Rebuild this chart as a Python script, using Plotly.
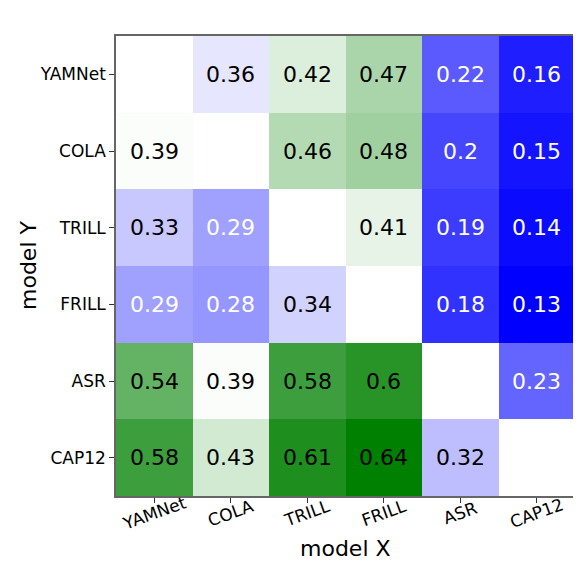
import numpy as np
import plotly.graph_objects as go

models = ["YAMNet", "COLA", "TRILL", "FRILL", "ASR", "CAP12"]

# rows = model Y (top to bottom), cols = model X
row_yamnet = [None, 0.36, 0.42, 0.47, 0.22, 0.16]
row_cola = [0.39, None, 0.46, 0.48, 0.2, 0.15]
row_trill = [0.33, 0.29, None, 0.41, 0.19, 0.14]
row_frill = [0.29, 0.28, 0.34, None, 0.18, 0.13]
row_asr = [0.54, 0.39, 0.58, 0.6, None, 0.23]
row_cap12 = [0.58, 0.43, 0.61, 0.64, 0.32, None]

z = [row_yamnet, row_cola, row_trill, row_frill, row_asr, row_cap12]
zf = np.array([[np.nan if v is None else v for v in r] for r in z])

fig = go.Figure(go.Heatmap(
    z=zf, x=models, y=models,
    colorscale=[[0, "rgb(0,0,255)"], [0.5, "rgb(255,255,255)"], [1, "rgb(0,128,0)"]],
    zmin=np.nanmin(zf), zmax=np.nanmax(zf),
    showscale=False, hoverongaps=False,
))

# value labels, white on the darker blue cells
for i, ym in enumerate(models):
    for j, xm in enumerate(models):
        v = z[i][j]
        if v is None:
            continue
        fig.add_annotation(x=xm, y=ym, text=f"{v:g}", showarrow=False,
                           font=dict(size=22, color="white" if v < 0.3 else "black"))

# rotated x tick labels centred under the ticks (matplotlib style)
for xm in models:
    fig.add_annotation(x=xm, y=0, xref="x", yref="paper", text=xm, showarrow=False,
                       textangle=-20, yanchor="middle", xanchor="center", yshift=-17,
                       font=dict(size=17))

# axis titles
fig.add_annotation(x=0.5, y=0, xref="paper", yref="paper", text="model X", showarrow=False,
                   yanchor="middle", yshift=-52, font=dict(size=22))
fig.add_annotation(x=0, y=0.5, xref="paper", yref="paper", text="model Y", showarrow=False,
                   xanchor="center", textangle=-90, xshift=-88, font=dict(size=22))

fig.update_layout(
    width=581, height=581,
    margin=dict(l=108, r=12, t=28, b=93),
    paper_bgcolor="white", plot_bgcolor="white",
    font=dict(family="DejaVu Sans", color="black"),
    xaxis=dict(showticklabels=False,
               ticks="outside", ticklen=5, tickcolor="#333",
               showline=True, linecolor="#666", linewidth=1.5, mirror=True,
               showgrid=False, zeroline=False),
    yaxis=dict(autorange="reversed", tickfont=dict(size=17),
               ticks="outside", ticklen=5, tickcolor="#333",
               showline=True, linecolor="#666", linewidth=1.5, mirror=True,
               showgrid=False, zeroline=False),
)

fig.write_html("out.html")
